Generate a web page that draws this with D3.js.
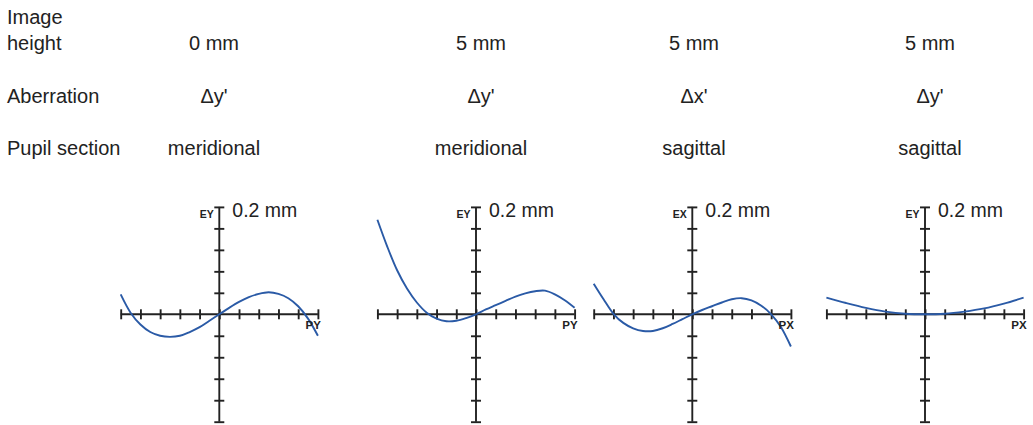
<!DOCTYPE html>
<html>
<head>
<meta charset="utf-8">
<script src="https://cdn.jsdelivr.net/npm/d3@7"></script>
<style>
  html, body { margin: 0; padding: 0; background: #fff; }
  svg { display: block; }
  text { font-family: "Liberation Sans", Arial, sans-serif; fill: #222; }
</style>
</head>
<body>
<svg id="chart" width="1033" height="425"></svg>
<script>
// Header table: row titles and one column of values per ray fan
const rowTitles = [["Image", "height"], ["Aberration"], ["Pupil section"]];
const imageHeights = ["0 mm", "5 mm", "5 mm", "5 mm"];
const aberrations = ["\u0394y'", "\u0394y'", "\u0394x'", "\u0394y'"];
const pupilSections = ["meridional", "meridional", "sagittal", "sagittal"];

// Axis labels of each fan
const verticalLabels = ["EY", "EY", "EX", "EY"];
const horizontalLabels = ["PY", "PY", "PX", "PX"];
const scaleLabel = "0.2 mm";

// Axis tick values (normalised pupil coordinate, aberration in mm)
const pupilTicks = [-1, -0.8, -0.6, -0.4, -0.2, 0, 0.2, 0.4, 0.6, 0.8, 1];
const aberrationTicks = [-0.2, -0.16, -0.12, -0.08, -0.04, 0.04, 0.08, 0.12, 0.16, 0.2];

// Ray fan samples: pupil coordinate and transverse aberration (mm)
const pupilFine = [-1, -0.9, -0.8, -0.7, -0.6, -0.5, -0.4, -0.3, -0.2, -0.1, 0,
                   0.1, 0.2, 0.3, 0.4, 0.5, 0.6, 0.7, 0.8, 0.9, 1];
const pupilCoarse = [-1, -0.8, -0.6, -0.4, -0.2, 0, 0.2, 0.4, 0.6, 0.8, 1];

const fanMeridional0 = [0.037, 0.003, -0.019, -0.033, -0.040, -0.042, -0.040, -0.033, -0.024, -0.012, 0,
                        0.012, 0.023, 0.032, 0.038, 0.041, 0.038, 0.030, 0.015, -0.008, -0.040];
const fanMeridional5 = [0.176, 0.126, 0.082, 0.048, 0.022, 0.003, -0.008, -0.013, -0.012, -0.007, 0,
                        0.009, 0.017, 0.025, 0.033, 0.039, 0.043, 0.044, 0.037, 0.026, 0.012];
const fanSagittalX5 = [0.057, 0.028, 0.001, -0.016, -0.026, -0.031, -0.031, -0.026, -0.018, -0.009, 0,
                       0.008, 0.015, 0.022, 0.028, 0.030, 0.026, 0.016, 0.000, -0.024, -0.060];
const fanSagittalY5 = [0.031, 0.021, 0.012, 0.005, 0.001, 0, 0.001, 0.005, 0.011, 0.020, 0.031];

const fans = [
  { px: pupilFine, ey: fanMeridional0 },
  { px: pupilFine, ey: fanMeridional5 },
  { px: pupilFine, ey: fanSagittalX5 },
  { px: pupilCoarse, ey: fanSagittalY5 }
];

// Layout
const columnCenters = [214, 481, 694, 930];
const fanCenters = [219.3, 476, 692.3, 925];
const halfWidth = 98.6;
const originY = 314.3;
const halfHeight = 107.4;
const ink = "#222";
const curveColor = "#2a5aa6";

const svg = d3.select("#chart");

// Header block
const header = svg.append("g").attr("font-size", 20);
header.append("text").attr("x", 7).attr("y", 24).text(rowTitles[0][0]);
header.append("text").attr("x", 7).attr("y", 50).text(rowTitles[0][1]);
header.append("text").attr("x", 7).attr("y", 103).text(rowTitles[1][0]);
header.append("text").attr("x", 7).attr("y", 155).text(rowTitles[2][0]);

const rows = [
  { values: imageHeights, y: 50 },
  { values: aberrations, y: 103 },
  { values: pupilSections, y: 155 }
];
rows.forEach(r => {
  header.selectAll(null).data(r.values).join("text")
    .attr("x", (d, i) => columnCenters[i])
    .attr("y", r.y)
    .attr("text-anchor", "middle")
    .text(d => d);
});

// One ray fan per column
fans.forEach((fan, i) => {
  const cx = fanCenters[i];
  const x = d3.scaleLinear().domain([-1, 1]).range([cx - halfWidth, cx + halfWidth]);
  const y = d3.scaleLinear().domain([-0.2, 0.2]).range([originY + halfHeight, originY - halfHeight]);

  const g = svg.append("g");

  // Horizontal (pupil) axis with ticks crossing the line
  const ax = g.append("g")
    .attr("transform", `translate(0,${y(0)})`)
    .call(d3.axisBottom(x).tickValues(pupilTicks).tickSizeOuter(0).tickFormat(""));
  ax.select(".domain").remove();
  ax.selectAll(".tick line").attr("y1", -5).attr("y2", 5).attr("stroke", ink).attr("stroke-width", 1.9);
  ax.append("line").attr("x1", x(-1)).attr("x2", x(1))
    .attr("stroke", ink).attr("stroke-width", 1.9);

  // Vertical (aberration) axis
  const ay = g.append("g")
    .attr("transform", `translate(${x(0)},0)`)
    .call(d3.axisLeft(y).tickValues(aberrationTicks).tickSizeOuter(0).tickFormat(""));
  ay.select(".domain").remove();
  ay.selectAll(".tick line").attr("x1", -5).attr("x2", 5).attr("stroke", ink).attr("stroke-width", 1.9);
  ay.append("line").attr("y1", y(-0.2)).attr("y2", y(0.2))
    .attr("stroke", ink).attr("stroke-width", 1.9);

  // Ray fan curve
  const line = d3.line()
    .x(d => x(d[0]))
    .y(d => y(d[1]))
    .curve(d3.curveCatmullRom.alpha(0.5));
  g.append("path")
    .datum(d3.zip(fan.px, fan.ey))
    .attr("fill", "none")
    .attr("stroke", curveColor)
    .attr("stroke-width", 1.9)
    .attr("d", line);

  // Labels
  g.append("text")
    .attr("x", x(0) - 5.5).attr("y", y(0.2) + 11.5)
    .attr("text-anchor", "end")
    .attr("font-size", 10.5).attr("font-weight", "bold")
    .text(verticalLabels[i]);
  g.append("text")
    .attr("x", x(1) + 3).attr("y", y(0) + 15)
    .attr("text-anchor", "end")
    .attr("font-size", 11.5).attr("font-weight", "bold")
    .text(horizontalLabels[i]);
  g.append("text")
    .attr("x", x(0) + 13).attr("y", y(0.2) + 10.5)
    .attr("font-size", 19.5)
    .text(scaleLabel);
});
</script>
</body>
</html>
